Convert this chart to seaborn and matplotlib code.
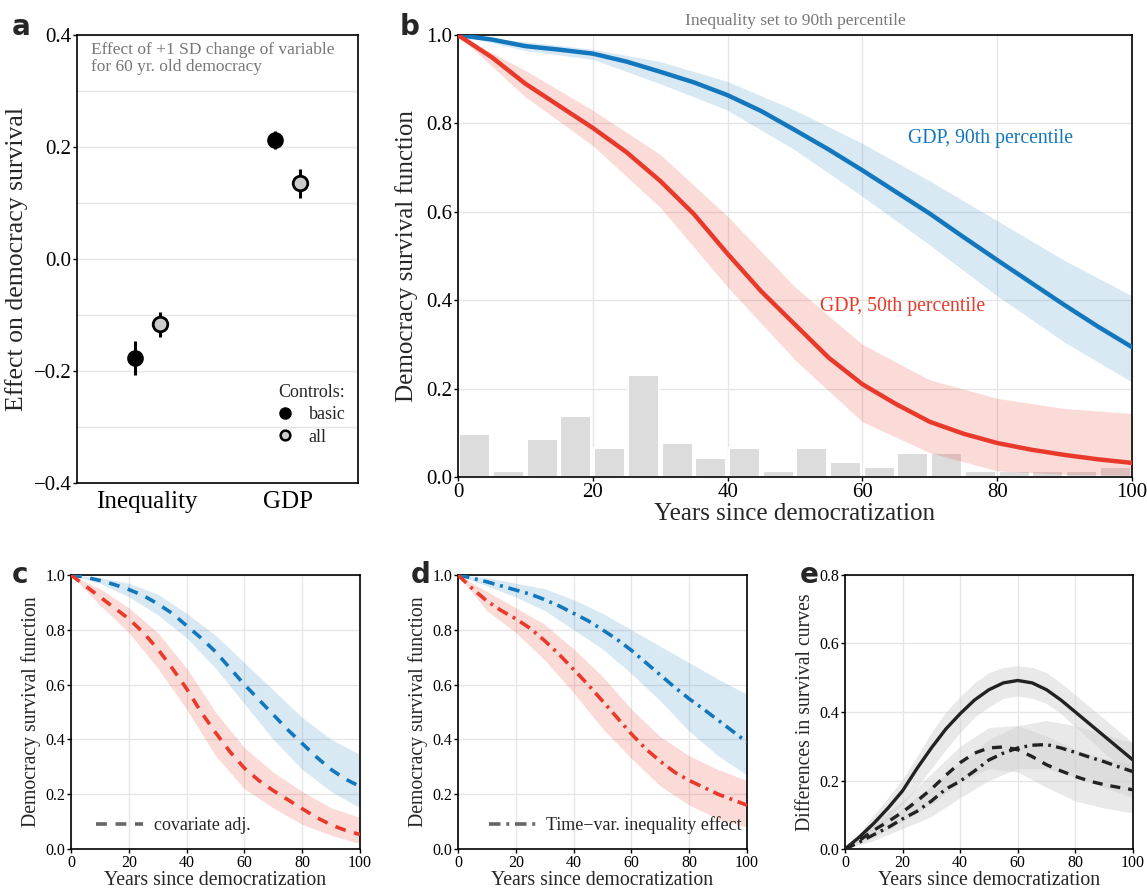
import numpy as np
import pandas as pd
import matplotlib
matplotlib.use("Agg")
import matplotlib.pyplot as plt
from matplotlib.lines import Line2D
from matplotlib.ticker import FuncFormatter
import seaborn as sns

sns.set_theme(style="whitegrid")
plt.rcParams['font.family'] = ['Liberation Serif', 'DejaVu Serif']

BLUE = "#1377bd"
RED = "#e8392b"
GRID = "#e6e6e6"

# ---- panel a: effect of +1 SD change
cats = ["Inequality", "GDP"]
eff_basic = [-0.177, 0.213]
eff_basic_lo = [-0.207, 0.197]
eff_basic_hi = [-0.147, 0.229]
eff_all = [-0.116, 0.136]
eff_all_lo = [-0.139, 0.109]
eff_all_hi = [-0.094, 0.161]

years5 = np.arange(0, 101, 5)
years10 = np.arange(0, 101, 10)

# ---- panel b: survival curves (inequality at 90th pct)
b_gdp90 = [1.0, 0.99, 0.975, 0.967, 0.958, 0.94, 0.917, 0.893, 0.864, 0.828, 0.785,
           0.741, 0.694, 0.645, 0.596, 0.543, 0.491, 0.44, 0.389, 0.34, 0.294]
b_gdp50 = [1.0, 0.95, 0.89, 0.84, 0.79, 0.735, 0.67, 0.595, 0.505, 0.42, 0.345,
           0.27, 0.21, 0.165, 0.125, 0.098, 0.077, 0.062, 0.05, 0.04, 0.032]
b_gdp90_hi = [1, 0.985, 0.968, 0.94, 0.895, 0.83, 0.755, 0.67, 0.58, 0.49, 0.41]
b_gdp90_lo = [1, 0.965, 0.945, 0.89, 0.83, 0.74, 0.635, 0.525, 0.41, 0.305, 0.215]
b_gdp50_hi = [1, 0.92, 0.83, 0.73, 0.59, 0.43, 0.30, 0.22, 0.178, 0.155, 0.144]
b_gdp50_lo = [1, 0.86, 0.75, 0.61, 0.43, 0.265, 0.125, 0.055, 0.014, 0.006, 0.004]

# histogram of democracy ages (share per 5-year bin)
hist_mid = np.arange(2.5, 100, 5)
hist_share = [0.097, 0.014, 0.086, 0.138, 0.065, 0.231, 0.076, 0.044, 0.065, 0.014,
              0.065, 0.034, 0.023, 0.055, 0.055, 0.014, 0.014, 0.014, 0.014, 0.023]

# ---- panel c: covariate adjusted
c_gdp90 = [1.0, 0.992, 0.98, 0.965, 0.947, 0.925, 0.895, 0.86, 0.815, 0.77, 0.72,
           0.66, 0.60, 0.545, 0.49, 0.435, 0.385, 0.335, 0.29, 0.255, 0.228]
c_gdp50 = [1.0, 0.96, 0.92, 0.88, 0.84, 0.79, 0.73, 0.66, 0.585, 0.50, 0.425,
           0.355, 0.295, 0.25, 0.213, 0.18, 0.147, 0.115, 0.088, 0.068, 0.053]
c_gdp90_hi = [1, 0.99, 0.97, 0.93, 0.86, 0.78, 0.68, 0.58, 0.48, 0.40, 0.345]
c_gdp90_lo = [1, 0.97, 0.92, 0.855, 0.77, 0.66, 0.53, 0.40, 0.29, 0.21, 0.15]
c_gdp50_hi = [1, 0.95, 0.88, 0.79, 0.66, 0.50, 0.37, 0.28, 0.21, 0.15, 0.115]
c_gdp50_lo = [1, 0.89, 0.79, 0.66, 0.51, 0.34, 0.22, 0.15, 0.09, 0.05, 0.02]

# ---- panel d: time-varying inequality effect
d_gdp90 = [1.0, 0.988, 0.975, 0.96, 0.945, 0.93, 0.91, 0.887, 0.86, 0.833, 0.80,
           0.765, 0.725, 0.68, 0.635, 0.59, 0.548, 0.51, 0.47, 0.43, 0.39]
d_gdp50 = [1.0, 0.95, 0.905, 0.87, 0.84, 0.805, 0.76, 0.71, 0.655, 0.60, 0.54,
           0.48, 0.42, 0.365, 0.32, 0.28, 0.25, 0.225, 0.20, 0.18, 0.16]
d_gdp90_hi = [1, 0.99, 0.97, 0.95, 0.91, 0.86, 0.80, 0.74, 0.68, 0.62, 0.565]
d_gdp90_lo = [1, 0.96, 0.92, 0.87, 0.80, 0.73, 0.64, 0.54, 0.43, 0.34, 0.27]
d_gdp50_hi = [1, 0.94, 0.88, 0.82, 0.73, 0.63, 0.51, 0.41, 0.34, 0.29, 0.25]
d_gdp50_lo = [1, 0.87, 0.79, 0.69, 0.57, 0.44, 0.33, 0.23, 0.16, 0.11, 0.08]

# ---- panel e: differences in survival curves
e_main = [0, 0.035, 0.075, 0.12, 0.17, 0.235, 0.295, 0.35, 0.395, 0.435, 0.465,
          0.485, 0.492, 0.485, 0.465, 0.435, 0.40, 0.365, 0.33, 0.295, 0.26]
e_main_hi = [0, 0.045, 0.10, 0.15, 0.205, 0.27, 0.34, 0.40, 0.445, 0.485, 0.515,
             0.53, 0.535, 0.53, 0.515, 0.485, 0.45, 0.415, 0.38, 0.345, 0.31]
e_main_lo = [0, 0.025, 0.055, 0.09, 0.13, 0.18, 0.235, 0.29, 0.34, 0.385, 0.415,
             0.44, 0.447, 0.44, 0.425, 0.395, 0.357, 0.32, 0.28, 0.245, 0.21]
e_cov = [0, 0.025, 0.055, 0.08, 0.108, 0.14, 0.175, 0.215, 0.252, 0.28, 0.295,
         0.298, 0.29, 0.27, 0.246, 0.228, 0.212, 0.198, 0.188, 0.18, 0.173]
e_cov_hi = [0, 0.075, 0.14, 0.22, 0.30, 0.355, 0.36, 0.33, 0.29, 0.265, 0.245]
e_cov_lo = [0, 0.035, 0.08, 0.13, 0.195, 0.235, 0.225, 0.18, 0.14, 0.12, 0.105]
e_tv = [0, 0.02, 0.042, 0.063, 0.088, 0.11, 0.14, 0.175, 0.198, 0.228, 0.26,
        0.28, 0.295, 0.303, 0.305, 0.295, 0.282, 0.268, 0.255, 0.24, 0.226]
e_tv_hi = [0, 0.065, 0.12, 0.185, 0.25, 0.32, 0.36, 0.375, 0.36, 0.335, 0.31]
e_tv_lo = [0, 0.025, 0.06, 0.095, 0.15, 0.20, 0.235, 0.235, 0.21, 0.18, 0.15]

DASH = (3, 2.4)
DASHDOT = (3.2, 1.6, 0.8, 1.6)
fmt1 = FuncFormatter(lambda v, p: f"{v:.1f}".replace("-", "\u2212"))

fig = plt.figure(figsize=(11.47, 8.88), dpi=100)
ax_a = fig.add_axes([0.0671, 0.456, 0.245, 0.5045])
ax_b = fig.add_axes([0.3993, 0.4628, 0.5876, 0.4977])
ax_c = fig.add_axes([0.0619, 0.0439, 0.252, 0.3086])
ax_d = fig.add_axes([0.3993, 0.0439, 0.252, 0.3086])
ax_e = fig.add_axes([0.7367, 0.0439, 0.251, 0.3086])


def style(ax, tsize):
    for s in ax.spines.values():
        s.set_color("black")
        s.set_linewidth(1.2)
    ax.grid(True, color=GRID, linewidth=1.0)
    ax.set_axisbelow(True)
    ax.tick_params(left=True, bottom=True, length=3, width=1, color="black",
                   direction="out", labelsize=tsize, pad=1, labelcolor="black")
    ax.yaxis.set_major_formatter(fmt1)


# ---------------- a
xpos = np.arange(1, len(cats) + 1)
off = 0.09
ax_a.errorbar(xpos - off, eff_basic,
              yerr=[np.subtract(eff_basic, eff_basic_lo), np.subtract(eff_basic_hi, eff_basic)],
              fmt="none", ecolor="black", elinewidth=2.2, zorder=2)
ax_a.errorbar(xpos + off, eff_all,
              yerr=[np.subtract(eff_all, eff_all_lo), np.subtract(eff_all_hi, eff_all)],
              fmt="none", ecolor="black", elinewidth=2.2, zorder=2)
sns.scatterplot(x=xpos - off, y=eff_basic, ax=ax_a, color="black", s=110,
                edgecolor="black", linewidth=1.5, zorder=3)
sns.scatterplot(x=xpos + off, y=eff_all, ax=ax_a, color="#cccccc", s=110,
                edgecolor="black", linewidth=2, zorder=3)
style(ax_a, 15)
ax_a.set_xlim(0.5, 2.5)
ax_a.set_ylim(-0.4, 0.4)
ax_a.set_yticks([-0.4, -0.2, 0.0, 0.2, 0.4])
ax_a.set_yticks(np.arange(-0.3, 0.31, 0.1), minor=True)
ax_a.grid(False)
ax_a.grid(True, axis="y", which="both", color=GRID, linewidth=1.0)
ax_a.set_xticks(xpos)
ax_a.set_xticklabels(cats, fontsize=18)
ax_a.tick_params(axis="x", length=0, pad=6)
ax_a.tick_params(axis="y", which="minor", length=0)
ax_a.set_ylabel("Effect on democracy survival", fontsize=18.5, labelpad=4)
ax_a.text(0.05, 0.985, "Effect of +1 SD change of variable\nfor 60 yr. old democracy",
          transform=ax_a.transAxes, ha="left", va="top", fontsize=12.5,
          color="#777777", linespacing=1.1)
handles = [Line2D([], [], marker="o", ls="none", color="black", markersize=8),
           Line2D([], [], marker="o", ls="none", markerfacecolor="#cccccc",
                  markeredgecolor="black", markeredgewidth=1.8, markersize=7)]
ax_a.legend(handles, ["basic", "all"], title="Controls:", loc="lower right",
            bbox_to_anchor=(1.0, 0.055), frameon=False, fontsize=13,
            title_fontsize=13, handletextpad=0.3, borderaxespad=0.3,
            labelspacing=0.3, alignment="right")

# ---------------- b
hist_df = pd.DataFrame({"age": hist_mid, "share": hist_share})
sns.histplot(data=hist_df, x="age", weights="share", binwidth=5, binrange=(0, 100), ax=ax_b,
             color="#dcdcdc", alpha=1, edgecolor="white", linewidth=1.5, shrink=0.92, zorder=2)
ax_b.fill_between(years10, b_gdp90_lo, b_gdp90_hi, color=BLUE, alpha=0.16, lw=0, zorder=1.5)
ax_b.fill_between(years10, b_gdp50_lo, b_gdp50_hi, color=RED, alpha=0.18, lw=0, zorder=2.5)
b_df = pd.DataFrame({"year": np.concatenate([years5, years5]),
                     "surv": b_gdp90 + b_gdp50,
                     "group": ["GDP, 90th percentile"] * len(years5) + ["GDP, 50th percentile"] * len(years5)})
sns.lineplot(data=b_df, x="year", y="surv", hue="group", ax=ax_b,
             palette={"GDP, 90th percentile": BLUE, "GDP, 50th percentile": RED},
             linewidth=3.2, legend=False, zorder=3)
style(ax_b, 15)
ax_b.set_xlim(0, 100)
ax_b.set_ylim(0, 1)
ax_b.set_xticks(np.arange(0, 101, 20))
ax_b.set_yticks(np.arange(0, 1.01, 0.2))
ax_b.set_xlabel("Years since democratization", fontsize=18, labelpad=1)
ax_b.set_ylabel("Democracy survival function", fontsize=18, labelpad=6)
ax_b.set_title("Inequality set to 90th percentile", fontsize=12.5, color="#777777", pad=7)
ax_b.text(66.8, 0.765, "GDP, 90th percentile", color=BLUE, fontsize=14.2, va="center")
ax_b.text(53.7, 0.385, "GDP, 50th percentile", color=RED, fontsize=14.2, va="center")


# ---------------- c, d
def survival_panel(ax, s90, s90lo, s90hi, s50, s50lo, s50hi, dash, label, lx):
    ax.fill_between(years10, s90lo, s90hi, color=BLUE, alpha=0.16, lw=0, zorder=1)
    ax.fill_between(years10, s50lo, s50hi, color=RED, alpha=0.18, lw=0, zorder=1.5)
    df = pd.DataFrame({"year": np.concatenate([years5, years5]),
                       "surv": s90 + s50,
                       "group": ["g90"] * len(years5) + ["g50"] * len(years5)})
    sns.lineplot(data=df, x="year", y="surv", hue="group", ax=ax,
                 palette={"g90": BLUE, "g50": RED}, linewidth=2.6,
                 legend=False, zorder=3)
    for ln in ax.get_lines():
        ln.set_dashes(dash)
    style(ax, 11.5)
    ax.set_xlim(0, 100)
    ax.set_ylim(0, 1)
    ax.set_xticks(np.arange(0, 101, 20))
    ax.set_yticks(np.arange(0, 1.01, 0.2))
    ax.set_xlabel("Years since democratization", fontsize=14.2, labelpad=0)
    ax.set_ylabel("Democracy survival function", fontsize=14.2, labelpad=3)
    h = Line2D([], [], color="#666666", lw=2.6, dashes=dash)
    ax.legend([h], [label], loc="lower left", bbox_to_anchor=(lx, -0.005),
              frameon=False, fontsize=13, handlelength=2.6, handletextpad=0.6)


survival_panel(ax_c, c_gdp90, c_gdp90_lo, c_gdp90_hi, c_gdp50, c_gdp50_lo, c_gdp50_hi,
               DASH, "covariate adj.", 0.03)
survival_panel(ax_d, d_gdp90, d_gdp90_lo, d_gdp90_hi, d_gdp50, d_gdp50_lo, d_gdp50_hi,
               DASHDOT, "Time\u2212var. inequality effect", 0.05)

# ---------------- e
ax_e.fill_between(years5, e_main_lo, e_main_hi, color="#cfcfcf", alpha=0.45, lw=0, zorder=1)
for lo, hi in [(e_cov_lo, e_cov_hi), (e_tv_lo, e_tv_hi)]:
    ax_e.fill_between(years10, lo, hi, color="#cfcfcf", alpha=0.45, lw=0, zorder=1)
e_df = pd.DataFrame({"year": np.tile(years5, 3),
                     "diff": e_main + e_cov + e_tv,
                     "model": ["main"] * 21 + ["cov"] * 21 + ["tv"] * 21})
sns.lineplot(data=e_df, x="year", y="diff", style="model", ax=ax_e, color="#222222",
             dashes={"main": "", "cov": DASH, "tv": DASHDOT}, linewidth=2.4,
             legend=False, zorder=3)
style(ax_e, 11.5)
ax_e.set_xlim(0, 100)
ax_e.set_ylim(0, 0.8)
ax_e.set_xticks(np.arange(0, 101, 20))
ax_e.set_yticks(np.arange(0, 0.81, 0.2))
ax_e.set_xlabel("Years since democratization", fontsize=14.2, labelpad=0)
ax_e.set_ylabel("Differences in survival curves", fontsize=14.2, labelpad=3)

# panel letters
for lab, (x, y) in {"a": (0.010, 0.970), "b": (0.348, 0.970), "c": (0.010, 0.352),
                    "d": (0.358, 0.352), "e": (0.697, 0.352)}.items():
    fig.text(x, y, lab, fontsize=20, fontweight="bold", family="DejaVu Sans", va="center")

fig.savefig("out.png", dpi=100)
